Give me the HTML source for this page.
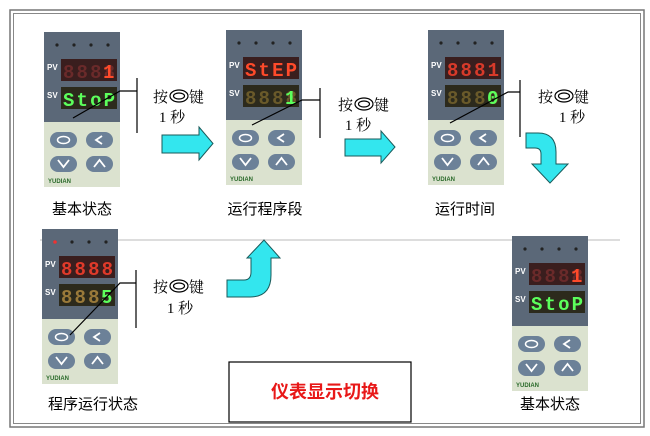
<!DOCTYPE html>
<html><head><meta charset="utf-8"><style>
html,body{margin:0;padding:0;background:#fff;}
svg{display:block;font-family:"Liberation Sans","Noto Sans CJK SC",sans-serif;}
</style></head><body>
<svg width="650" height="436" viewBox="0 0 650 436" xmlns="http://www.w3.org/2000/svg">
<defs>
<g id="inst">
  <rect x="0" y="0" width="76" height="90" fill="#5b6878"/>
  <rect x="0" y="90" width="76" height="65" fill="#dbe2cf"/>
  <circle cx="13" cy="13" r="1.6" fill="#222"/><circle cx="30" cy="13" r="1.6" fill="#222"/>
  <circle cx="47" cy="13" r="1.6" fill="#222"/><circle cx="64" cy="13" r="1.6" fill="#222"/>
  <rect x="17" y="27" width="56" height="22" fill="#3a1e1e"/>
  <rect x="17" y="55" width="56" height="22" fill="#2c2a1c"/>
  <rect x="6" y="100" width="27" height="16" rx="8" fill="#6c8198"/>
  <rect x="42" y="100" width="27" height="16" rx="8" fill="#6c8198"/>
  <rect x="6" y="124" width="27" height="16" rx="8" fill="#6c8198"/>
  <rect x="42" y="124" width="27" height="16" rx="8" fill="#6c8198"/>
  <ellipse cx="19.5" cy="108" rx="6" ry="3.5" fill="none" stroke="#fff" stroke-width="1.5"/>
  <path d="M58 104 L52 108 L58 112" fill="none" stroke="#fff" stroke-width="1.8"/>
  <path d="M14 128 L19.5 135 L25 128" fill="none" stroke="#fff" stroke-width="1.8"/>
  <path d="M50 135 L55.5 128 L61 135" fill="none" stroke="#fff" stroke-width="1.8"/>
</g>
</defs>

<rect x="10" y="10" width="634" height="417" fill="none" stroke="#777" stroke-width="1.5"/>
<rect x="13.5" y="13.5" width="627" height="410" fill="none" stroke="#888" stroke-width="1"/>

<!-- faint watermark line -->
<line x1="40" y1="240" x2="620" y2="240" stroke="#ddd" stroke-width="2"/>

<!-- Instrument 1 -->
<g transform="translate(44,32)">
  <use href="#inst"/>
  <text x="3" y="38" font-size="8" font-weight="bold" fill="#fff">PV</text>
  <text x="3" y="66" font-size="8" font-weight="bold" fill="#fff">SV</text>
  <text x="19" y="46" font-family="Liberation Mono" font-weight="bold" font-size="19" fill="#6a2a2a" textLength="52">8888</text>
  <text x="59" y="46" font-family="Liberation Mono" font-weight="bold" font-size="19" fill="#ff4a2a">1</text>
  <text x="19" y="74" font-family="Liberation Mono" font-weight="bold" font-size="19" fill="#5cff5c" textLength="52">StoP</text>
  <text x="4" y="151" font-size="6" font-weight="bold" fill="#2a6a2a">YUDIAN</text>
</g>
<!-- Instrument 2 -->
<g transform="translate(226,30)">
  <use href="#inst"/>
  <text x="3" y="38" font-size="8" font-weight="bold" fill="#fff">PV</text>
  <text x="3" y="66" font-size="8" font-weight="bold" fill="#fff">SV</text>
  <text x="19" y="46" font-family="Liberation Mono" font-weight="bold" font-size="19" fill="#ff4a2a" textLength="52">StEP</text>
  <text x="19" y="74" font-family="Liberation Mono" font-weight="bold" font-size="19" fill="#6a5a2a" textLength="52">8888</text>
  <text x="59" y="74" font-family="Liberation Mono" font-weight="bold" font-size="19" fill="#5cff5c">1</text>
  <text x="4" y="151" font-size="6" font-weight="bold" fill="#2a6a2a">YUDIAN</text>
</g>
<!-- Instrument 3 -->
<g transform="translate(428,30)">
  <use href="#inst"/>
  <text x="3" y="38" font-size="8" font-weight="bold" fill="#fff">PV</text>
  <text x="3" y="66" font-size="8" font-weight="bold" fill="#fff">SV</text>
  <text x="19" y="46" font-family="Liberation Mono" font-weight="bold" font-size="19" fill="#d83a2a" textLength="52">8881</text>
  <text x="19" y="74" font-family="Liberation Mono" font-weight="bold" font-size="19" fill="#6a5a2a" textLength="52">8880</text>
  <text x="59" y="74" font-family="Liberation Mono" font-weight="bold" font-size="19" fill="#5cff5c">0</text>
  <text x="4" y="151" font-size="6" font-weight="bold" fill="#2a6a2a">YUDIAN</text>
</g>
<!-- Instrument 4 -->
<g transform="translate(42,229)">
  <use href="#inst"/>
  <circle cx="13" cy="13" r="1.8" fill="#e33"/>
  <text x="3" y="38" font-size="8" font-weight="bold" fill="#fff">PV</text>
  <text x="3" y="66" font-size="8" font-weight="bold" fill="#fff">SV</text>
  <text x="19" y="46" font-family="Liberation Mono" font-weight="bold" font-size="19" fill="#e03a2a" textLength="52">8888</text>
  <text x="19" y="74" font-family="Liberation Mono" font-weight="bold" font-size="19" fill="#9a7a3a" textLength="52">8888</text>
  <rect x="57" y="57" width="14" height="19" fill="#2c2a1c"/>
  <text x="59" y="74" font-family="Liberation Mono" font-weight="bold" font-size="19" fill="#5cff5c">5</text>
  <text x="4" y="151" font-size="6" font-weight="bold" fill="#2a6a2a">YUDIAN</text>
</g>
<!-- Instrument 5 -->
<g transform="translate(512,236)">
  <use href="#inst"/>
  <text x="3" y="38" font-size="8" font-weight="bold" fill="#fff">PV</text>
  <text x="3" y="66" font-size="8" font-weight="bold" fill="#fff">SV</text>
  <text x="19" y="46" font-family="Liberation Mono" font-weight="bold" font-size="19" fill="#6a2a2a" textLength="52">8888</text>
  <text x="59" y="46" font-family="Liberation Mono" font-weight="bold" font-size="19" fill="#ff4a2a">1</text>
  <text x="19" y="74" font-family="Liberation Mono" font-weight="bold" font-size="19" fill="#5cff5c" textLength="52">StoP</text>
  <text x="4" y="151" font-size="6" font-weight="bold" fill="#2a6a2a">YUDIAN</text>
</g>

<!-- callout lines -->
<g stroke="#000" stroke-width="1.2" fill="none">
  <path d="M73 118 L120 91 L137 91 M137 78 L137 133"/>
  <path d="M252 125 L302 100 L320 100 M320 88 L320 138"/>
  <path d="M450 123 L508 92 L520 92 M520 80 L520 137"/>
  <path d="M70 335 L120 283 L136 283 M136 270 L136 328"/>
</g>

<!-- labels 按◎键 1秒 -->
<g font-size="15" fill="#000" font-family="'Liberation Serif','Noto Serif CJK SC',serif">
  <text x="153" y="102">按</text><text x="189" y="102">键</text>
  <text x="172" y="122" text-anchor="middle">1 秒</text>
  <text x="338" y="110">按</text><text x="374" y="110">键</text>
  <text x="358" y="130" text-anchor="middle">1 秒</text>
  <text x="538" y="102">按</text><text x="574" y="102">键</text>
  <text x="572" y="122" text-anchor="middle">1 秒</text>
  <text x="153" y="292">按</text><text x="189" y="292">键</text>
  <text x="180" y="313" text-anchor="middle">1 秒</text>
</g>
<g fill="none" stroke="#000" stroke-width="1.2">
  <ellipse cx="179" cy="96" rx="9" ry="6"/><ellipse cx="179" cy="96" rx="5.5" ry="3"/>
  <ellipse cx="364" cy="104" rx="9" ry="6"/><ellipse cx="364" cy="104" rx="5.5" ry="3"/>
  <ellipse cx="564" cy="96" rx="9" ry="6"/><ellipse cx="564" cy="96" rx="5.5" ry="3"/>
  <ellipse cx="179" cy="286" rx="9" ry="6"/><ellipse cx="179" cy="286" rx="5.5" ry="3"/>
</g>

<!-- arrows -->
<g fill="#33e6ee" stroke="#1a5a5a" stroke-width="1">
  <path d="M162 135 L199 135 L199 127 L213 143.5 L199 160 L199 153 L162 153 Z"/>
  <path d="M345 139 L381 139 L381 131 L395 147 L381 163 L381 156 L345 156 Z"/>
  <path d="M526 133 L538 133 Q556 133 556 152 L556 164 L568 164 L550 183 L532 164 L541 164 L541 154 Q541 148 535 148 L526 148 Z"/>
  <path d="M227 280 L244 280 Q251 280 251 272 L251 258 L247 258 L264 240 L280 258 L271 258 L271 275 Q271 297 250 297 L227 297 Z"/>
</g>

<!-- captions -->
<g font-size="15" fill="#000">
  <text x="82" y="214" text-anchor="middle">基本状态</text>
  <text x="265" y="214" text-anchor="middle">运行程序段</text>
  <text x="465" y="214" text-anchor="middle">运行时间</text>
  <text x="93" y="409" text-anchor="middle">程序运行状态</text>
  <text x="550" y="409" text-anchor="middle">基本状态</text>
</g>

<!-- title box -->
<rect x="229" y="362" width="182" height="60" fill="#fff" stroke="#000" stroke-width="1.2"/>
<text x="325" y="398" text-anchor="middle" font-size="18" font-weight="bold" fill="#e81818">仪表显示切换</text>
</svg>
</body></html>
